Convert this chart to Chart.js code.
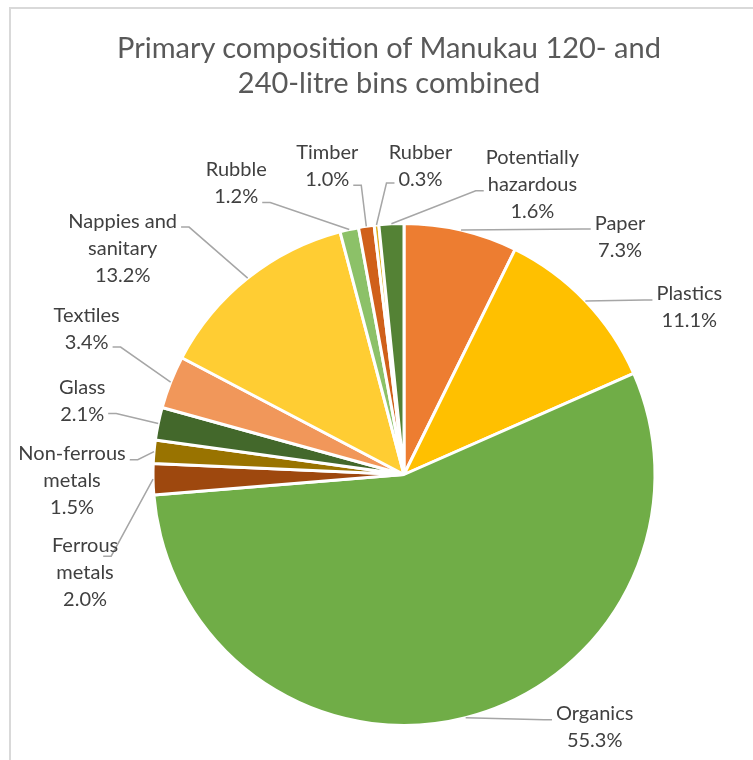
<!DOCTYPE html>
<html>
<head>
<meta charset="utf-8">
<script src="https://cdn.jsdelivr.net/npm/chart.js@4.4.1/dist/chart.umd.min.js"></script>
<style>
    body { margin: 0; background: #fff; }
    #wrap { position: relative; width: 753px; height: 760px; overflow: hidden; }
    #frame { position: absolute; left: 9px; top: 7px; right: -2px; bottom: -2px;
             border-left: 2px solid #d9d9d9; border-top: 2px solid #d9d9d9; }
    #title { position: absolute; left: 0; top: 29px; width: 778px; text-align: center;
             font-family: Lato, "Open Sans", sans-serif; font-size: 29px; line-height: 35px; color: #595959; }
    #chart { position: absolute; left: 0; top: 0; }
</style>
</head>
<body>
<div id="wrap">
    <div id="frame"></div>
    <canvas id="chart" width="753" height="760"></canvas>
    <div id="title">Primary composition of Manukau 120- and<br>240-litre bins combined</div>
</div>
<script>
// Waste categories, clockwise from 12 o'clock
const categories = ['Paper', 'Plastics', 'Organics', 'Ferrous metals', 'Non-ferrous metals', 'Glass',
    'Textiles', 'Nappies and sanitary', 'Rubble', 'Timber', 'Rubber', 'Potentially hazardous'];
const shares = [7.3, 11.1, 55.3, 2.0, 1.5, 2.1, 3.4, 13.2, 1.2, 1.0, 0.3, 1.6];
// Text rows for each label (name split the way it is shown)
const labelRows = [['Paper'], ['Plastics'], ['Organics'], ['Ferrous', 'metals'], ['Non-ferrous', 'metals'], ['Glass'],
    ['Textiles'], ['Nappies and', 'sanitary'], ['Rubble'], ['Timber'], ['Rubber'], ['Potentially', 'hazardous']];

const sliceColors = ['#ED7D31', '#FFC000', '#70AD47', '#9E480E', '#997300', '#43682B',
    '#F1975A', '#FFCD33', '#8CC168', '#D0601A', '#E0B020', '#548235'];

// Where each label sits, relative to the rim point at the middle of its slice
// dx/dy = centre of first text row, side/row = where the leader line joins the text
const labelPlacement = [
    { dx: 159, dy: -7, side: 'left', row: 0 },
    { dx: 104, dy: -7, side: 'left', row: 0 },
    { dx: 129, dy: -4, side: 'left', row: 0 },
    { dx: -68, dy: 66, side: 'right', row: 0, gap: -15, ay: 11 },
    { dx: -82, dy: 2, side: 'right', row: 0 },
    { dx: -76, dy: -36, side: 'right', row: 1, ay: -1 },
    { dx: -84, dy: -67, side: 'right', row: 1, ay: 5 },
    { dx: -125, dy: -57, side: 'right', row: 0 },
    { dx: -113, dy: -60, side: 'right', row: 1 },
    { dx: -39, dy: -74, side: 'right', row: 1 },
    { dx: 44, dy: -72, side: 'left', row: 1, ay: 3 },
    { dx: 141, dy: -66, side: 'left', row: 1 }
];

const LABEL_FONT = '20px Lato, "Open Sans", sans-serif';
const ROW_HEIGHT = 27;

// Draws the outside labels with their leader lines
const outsideLabels = {
    id: 'outsideLabels',
    afterDatasetsDraw(chart) {
        const ctx = chart.ctx;
        const arcs = chart.getDatasetMeta(0).data;
        ctx.save();
        ctx.font = LABEL_FONT;
        ctx.textAlign = 'center';
        ctx.textBaseline = 'middle';

        arcs.forEach(function (arc, i) {
            const p = labelPlacement[i];
            const mid = (arc.startAngle + arc.endAngle) / 2;
            const ex = arc.x + Math.cos(mid) * arc.outerRadius;
            const ey = arc.y + Math.sin(mid) * arc.outerRadius;

            const rows = labelRows[i].concat([shares[i].toFixed(1) + '%']);
            const cx = ex + p.dx;
            const cy = ey + p.dy;

            // leader line: rim -> elbow -> short horizontal stub into the label
            const w = ctx.measureText(rows[p.row]).width;
            const gap = p.gap !== undefined ? p.gap : 4;
            const ay = cy + p.row * ROW_HEIGHT + (p.ay !== undefined ? p.ay : 6);
            const ax = p.side === 'left' ? cx - w / 2 - gap : cx + w / 2 + gap;
            const bx = p.side === 'left' ? ax - 8 : ax + 8;
            ctx.strokeStyle = '#a6a6a6';
            ctx.lineWidth = 1.5;
            ctx.beginPath();
            ctx.moveTo(ex, ey);
            ctx.lineTo(bx, ay);
            ctx.lineTo(ax, ay);
            ctx.stroke();

            ctx.fillStyle = '#404040';
            rows.forEach(function (text, r) {
                ctx.fillText(text, cx, cy + r * ROW_HEIGHT);
            });
        });
        ctx.restore();
    }
};

const ctx = document.getElementById('chart').getContext('2d');
new Chart(ctx, {
    type: 'pie',
    data: {
        labels: categories,
        datasets: [{
            data: shares,
            backgroundColor: sliceColors,
            borderColor: '#ffffff',
            borderWidth: 3
        }]
    },
    options: {
        responsive: false,
        animation: false,
        layout: { padding: { left: 151, right: 96, top: 222, bottom: 33 } },
        plugins: {
            legend: { display: false },
            tooltip: { enabled: false }
        }
    },
    plugins: [outsideLabels]
});
</script>
</body>
</html>
